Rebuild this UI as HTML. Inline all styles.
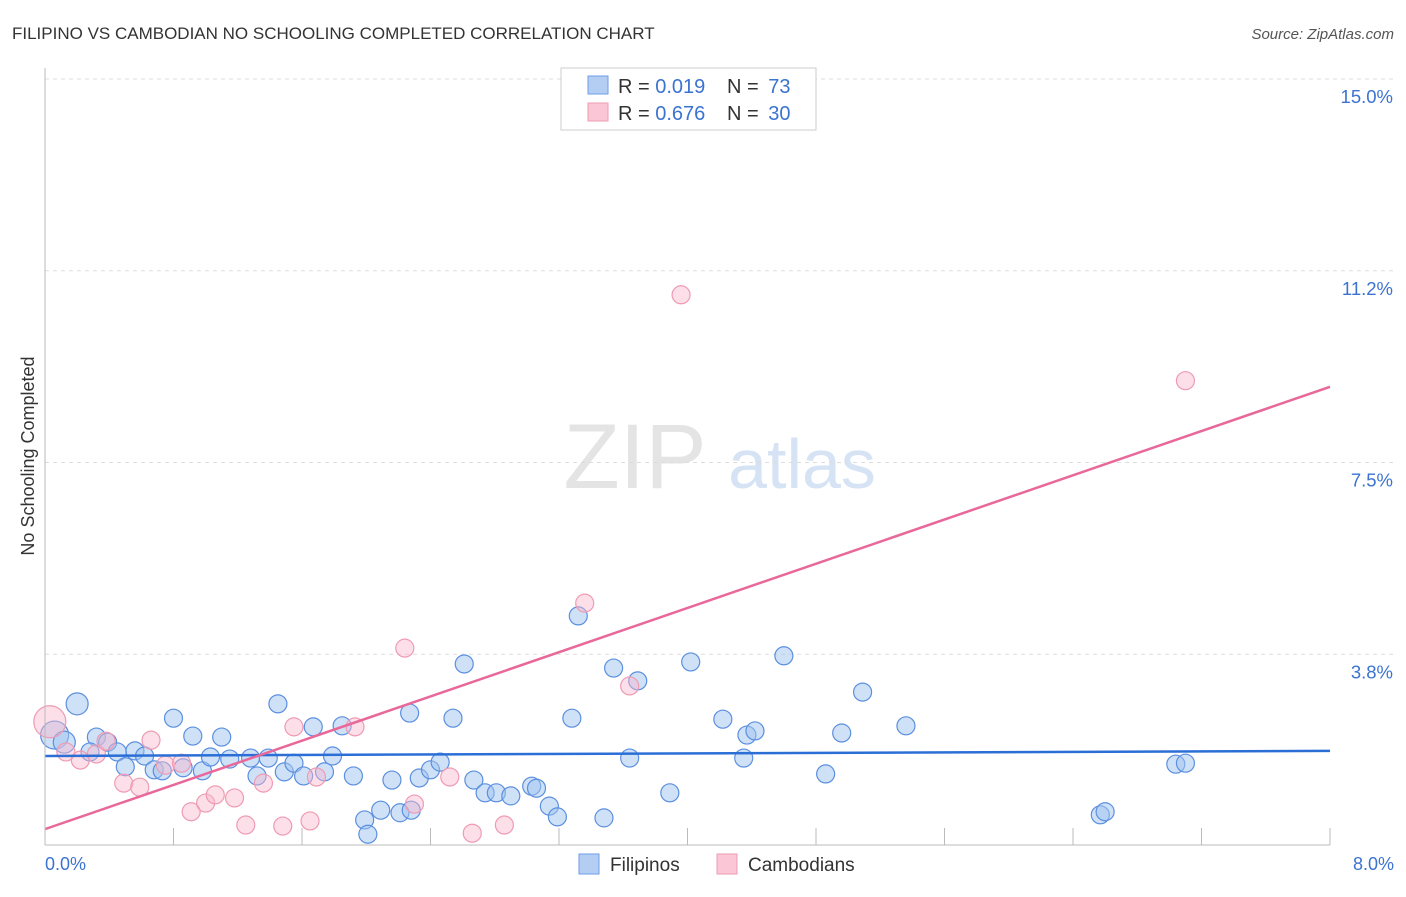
<!DOCTYPE html>
<html><head><meta charset="utf-8"><style>
body{margin:0;background:#fff;font-family:"Liberation Sans",sans-serif}
svg text{font-family:"Liberation Sans",sans-serif}
</style></head><body>
<svg id="c" width="1406" height="892">
<text x="12" y="39" font-size="17" fill="#333">FILIPINO VS CAMBODIAN NO SCHOOLING COMPLETED CORRELATION CHART</text>
<text x="1394" y="39" font-size="15" fill="#555" font-style="italic" text-anchor="end">Source: ZipAtlas.com</text>
<text x="34" y="456" font-size="18" fill="#333" text-anchor="middle" transform="rotate(-90 34 456)">No Schooling Completed</text>
<g><text x="635" y="488" font-size="92" fill="#e4e4e4" font-family="Liberation Serif" text-anchor="middle">ZIP</text><text x="802" y="488" font-size="70" fill="#d5e3f5" text-anchor="middle">atlas</text></g>
<g id="grid"></g><g id="pts"></g><g id="lines"></g>
<line x1="45" y1="68" x2="45" y2="845" stroke="#bbb"/>
<line x1="45" y1="845" x2="1330" y2="845" stroke="#bbb"/>
<text x="45" y="870" font-size="18" fill="#3b73d1">0.0%</text>
<text x="1394" y="870" font-size="18" fill="#3b73d1" text-anchor="end">8.0%</text>
<g>
<rect x="561" y="68" width="255" height="62" fill="#fff" stroke="#ccc"/>
<rect x="588" y="76" width="20" height="18" fill="#b3cdf3" stroke="#6f9ee8"/>
<rect x="588" y="103" width="20" height="18" fill="#fbc7d6" stroke="#ee9bb3"/>
<text x="618" y="93" font-size="20" fill="#333">R = <tspan fill="#3b73d1">0.019</tspan></text>
<text x="727" y="93" font-size="20" fill="#333">N = <tspan dx="4" fill="#3b73d1">73</tspan></text>
<text x="618" y="120" font-size="20" fill="#333">R = <tspan fill="#3b73d1">0.676</tspan></text>
<text x="727" y="120" font-size="20" fill="#333">N = <tspan dx="4" fill="#3b73d1">30</tspan></text>
</g>
<g>
<rect x="579" y="854" width="20" height="20" fill="#b3cdf3" stroke="#6f9ee8"/>
<text x="610" y="871" font-size="19" fill="#333">Filipinos</text>
<rect x="717" y="854" width="20" height="20" fill="#fbc7d6" stroke="#ee9bb3"/>
<text x="748" y="871" font-size="19" fill="#333">Cambodians</text>
</g>
</svg>
<script>
const yTicks=[15,11.25,7.5,3.75];
const yTickLabels=["15.0%","11.2%","7.5%","3.8%"];
const xTicks=[0.8,1.6,2.4,3.2,4.0,4.8,5.6,6.4,7.2,8.0];
const filX=[.06,.12,.20,.32,.39,.28,.45,.56,.62,.50,.68,.73,.80,.86,.92,.98,1.03,1.10,1.15,1.28,1.32,1.39,1.45,1.49,1.55,1.61,1.67,1.74,1.79,1.85,1.92,1.99,2.01,2.09,2.16,2.21,2.27,2.28,2.33,2.40,2.46,2.54,2.61,2.67,2.74,2.81,2.90,3.03,3.06,3.14,3.19,3.28,3.32,3.48,3.54,3.64,3.69,3.89,4.02,4.22,4.35,4.37,4.42,4.60,4.86,4.96,5.09,5.36,6.57,6.60,7.04,7.10];
const filY=[2.17,2.03,2.78,2.13,2.03,1.84,1.84,1.86,1.76,1.55,1.49,1.47,2.50,1.53,2.15,1.47,1.74,2.13,1.70,1.72,1.37,1.72,2.78,1.45,1.62,1.37,2.33,1.45,1.76,2.35,1.37,0.51,0.23,0.70,1.29,0.65,2.60,0.70,1.33,1.49,1.64,2.50,3.56,1.29,1.04,1.04,0.98,1.17,1.13,0.78,0.57,2.50,4.50,0.55,3.48,1.72,3.23,1.04,3.60,2.48,1.72,2.17,2.25,3.72,1.41,2.21,3.01,2.35,0.61,0.67,1.60,1.62];
const camX=[.03,.13,.22,.32,.38,.49,.59,.66,.75,.85,.91,1.00,1.06,1.18,1.25,1.36,1.48,1.55,1.65,1.69,1.93,2.24,2.30,2.52,2.66,2.86,3.36,3.64,3.96,7.10];
const camY=[2.43,1.84,1.68,1.80,2.05,1.23,1.15,2.07,1.58,1.62,0.67,0.84,1.00,0.94,0.41,1.23,0.39,2.33,0.49,1.35,2.33,3.87,0.82,1.35,0.25,0.41,4.75,3.13,10.78,9.10];
const filTrend=[1.76,1.86];
const camTrend=[0.33,8.98];
const X=v=>45+v/8*1285, Y=v=>846-v/15*767;
const NS="http://www.w3.org/2000/svg";
function mk(t,a,p){const e=document.createElementNS(NS,t);for(const k in a)e.setAttribute(k,a[k]);p.appendChild(e);return e;}
const g=document.getElementById('grid');
yTicks.forEach((v,i)=>{
 const l=mk('line',{x1:45,x2:1394,y1:Y(v),y2:Y(v),stroke:'#ddd','stroke-dasharray':'4,4'},g);
 
 
 const t=mk('text',{x:1393,y:Y(v)+24,'font-size':18.5,fill:'#3b73d1','text-anchor':'end'},g);
 t.textContent=yTickLabels[i];
 
 
});
xTicks.forEach(v=>{
 const l=mk('line',{x1:X(v),x2:X(v),y1:828,y2:845,stroke:'#bbb'},g);
 
 
});
const p=document.getElementById('pts');
filX.forEach((v,i)=>{
 const r=i===0?14:(i<3?11:9);
 const c=mk('circle',{cx:X(v),cy:Y(filY[i]),r:r,fill:'rgba(160,195,240,0.5)',stroke:'#5b8fdf','stroke-width':1.2},p);
 
 
});
camX.forEach((v,i)=>{
 const r=i===0?16:9;
 const c=mk('circle',{cx:X(v),cy:Y(camY[i]),r:r,fill:'rgba(248,185,205,0.45)',stroke:'#ee9bb3','stroke-width':1.2},p);
 
 
});
const L=document.getElementById('lines');
const b=mk('line',{x1:X(0),y1:Y(filTrend[0]),x2:X(8),y2:Y(filTrend[1]),stroke:'#2b6fd6','stroke-width':2.5},L);


const pk=mk('line',{x1:X(0),y1:Y(camTrend[0]),x2:X(8),y2:Y(camTrend[1]),stroke:'#e8689a','stroke-width':2.5},L);


</script>
</body></html>
